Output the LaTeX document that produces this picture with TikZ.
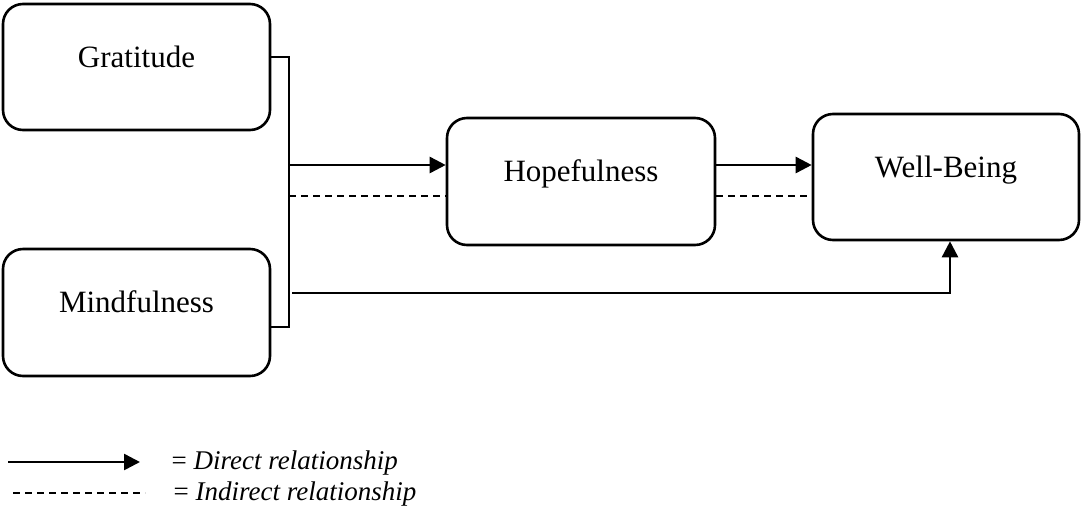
\documentclass[tikz,border=0pt]{standalone}
\usepackage{fontspec}
\setmainfont{Liberation Serif}
\usetikzlibrary{arrows.meta}

\begin{document}
\begin{tikzpicture}[x=1pt, y=-1pt, line width=2.6pt,
   box/.style = {shape = rectangle, draw, rounded corners = 20pt, inner sep = 0pt, minimum height = 126pt, text height = 21pt, text depth = 21pt, font = \fontsize{31}{36}\selectfont},
   direct/.style = {-{Triangle[length = 16pt, width = 16pt]}},
   indirect/.style = {line width = 2pt, dash pattern = on 7pt off 5pt}]
   \useasboundingbox (0,0) rectangle (1084,512);
   \node(grat) at (136.5,67) [box, minimum width = 267pt] {Gratitude};
   \node(mind) at (136.5,312.5) [box, minimum width = 267pt, minimum height = 127pt] {Mindfulness};
   \node(hope) at (581,181.5) [box, minimum width = 268pt, minimum height = 127pt] {Hopefulness};
   \node(well) at (946,177) [box, minimum width = 266pt] {Well-Being};
   \coordinate(jtop) at (289,57);
   \coordinate(jbot) at (289,327);
   \coordinate(d1) at (289,165);
   \coordinate(i1) at (289,196);
   \coordinate(m1) at (292,293);
   \draw (grat.east |- jtop) -- (jtop) -- (jbot) -- (mind.east |- jbot) ;
   \draw [direct] (d1) to (d1 -| hope.west) ;
   \draw [direct] (hope.east |- d1) to (well.west |- d1) ;
   \draw [indirect] (i1) to (i1 -| hope.west) ;
   \draw [indirect] (i1 -| hope.east) to (i1 -| well.west) ;
   \draw [direct] (m1) -| ([xshift = 4pt]well.south) ;
   % legend
   \coordinate(l1) at (8,462);
   \coordinate(l2) at (140,462);
   \coordinate(l3) at (13,493);
   \coordinate(l4) at (145,493);
   \draw [direct] (l1) to (l2) ;
   \draw [indirect] (l3) to (l4) ;
   \node(ldir) at (167,463) [anchor = west, font = \fontsize{27}{31}\selectfont] {= \textit{Direct relationship}};
   \node(lind) at (169,494) [anchor = west, font = \fontsize{27}{31}\selectfont] {= \textit{Indirect relationship}};
\end{tikzpicture}
\end{document}
